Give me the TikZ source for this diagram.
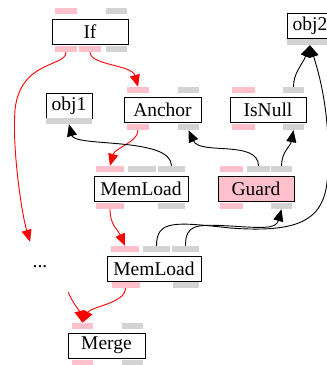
\documentclass[tikz,border=0pt]{standalone}
\usepackage{fontspec}
\setmainfont{Liberation Serif}
\newfontfamily\opfont{Liberation Serif}
\usetikzlibrary{arrows.meta}
\definecolor{portpink}{RGB}{255,192,203}
\definecolor{portgray}{RGB}{211,211,211}

\begin{document}
\begin{tikzpicture}[x=1pt,y=1pt,
  op/.style={draw,line width=0.9pt,minimum height=25pt,inner sep=0pt,font=\opfont\fontsize{19.5}{21}\selectfont},
  cp/.style={fill=portpink,minimum height=6pt,inner sep=0pt},
  vp/.style={fill=portgray,minimum height=6pt,inner sep=0pt},
  cf/.style={red,line width=0.9pt,-{Triangle[length=12pt,width=10pt]}},
  df/.style={black,line width=0.9pt,-{Triangle[length=12pt,width=10pt]}}]
\useasboundingbox (0,0) rectangle (327,365);
% operations
\node[op,minimum width=76pt] (if) at (90,333.5) {If};
\node[op,minimum width=46pt] (obj1) at (69,259.5) {obj1};
\node[op,minimum width=46pt] (obj2) at (310,339.5) {obj2};
\node[op,minimum width=77pt] (anc) at (162.5,255.5) {Anchor};
\node[op,minimum width=76pt] (isn) at (268,255.5) {IsNull};
\node[op,minimum width=94pt] (ml1) at (141,176.5) {MemLoad};
\node[op,minimum width=76pt,fill=portpink] (gd) at (256,176.5) {Guard};
\node[op,minimum width=94pt] (ml2) at (154,96.5) {MemLoad};
\node[op,minimum width=77pt] (mg) at (106.5,19.5) {Merge};
\node[font=\opfont\fontsize{19.5}{21}\selectfont,minimum width=56pt,minimum height=50pt] (dots) at (40,98) {...};
% ports
\node[cp,minimum width=22pt] (if-ci) at (66,354) {};
\node[vp,minimum width=21pt] (if-vi) at (116.5,354) {};
\node[cp,minimum width=22pt] (if-co1) at (66,316) {};
\node[cp,minimum width=22pt] (if-co2) at (90,316) {};
\node[vp,minimum width=21pt] (if-vo) at (116.5,316) {};
\node[vp,minimum width=46pt] (obj1-vo) at (69,244) {};
\node[vp,minimum width=46pt] (obj2-vo) at (310,323) {};
\node[cp,minimum width=22pt] (anc-ci) at (138,275) {};
\node[vp,minimum width=21pt] (anc-vi) at (188.5,275) {};
\node[cp,minimum width=22pt] (anc-co) at (138,238) {};
\node[vp,minimum width=21pt] (anc-vo) at (188.5,238) {};
\node[cp,minimum width=23pt] (isn-ci) at (243.5,275) {};
\node[vp,minimum width=21pt] (isn-vi) at (293.5,275) {};
\node[cp,minimum width=23pt] (isn-co) at (243.5,238) {};
\node[vp,minimum width=21pt] (isn-vo) at (293.5,238) {};
\node[cp,minimum width=28pt] (ml1-ci) at (110,196) {};
\node[vp,minimum width=28pt] (ml1-vi1) at (142,196) {};
\node[vp,minimum width=27pt] (ml1-vi2) at (171.5,196) {};
\node[cp,minimum width=28pt] (ml1-co) at (110,159) {};
\node[vp,minimum width=27pt] (ml1-vo) at (171.5,159) {};
\node[cp,minimum width=23pt] (gd-ci) at (231.5,196) {};
\node[vp,minimum width=23pt] (gd-vi1) at (258.5,196) {};
\node[vp,minimum width=21pt] (gd-vi2) at (281.5,196) {};
\node[cp,minimum width=23pt] (gd-co) at (231.5,159) {};
\node[vp,minimum width=21pt] (gd-vo) at (281.5,159) {};
\node[cp,minimum width=28pt] (ml2-ci) at (125,116) {};
\node[vp,minimum width=27pt] (ml2-vi1) at (156.5,116) {};
\node[vp,minimum width=27pt] (ml2-vi2) at (185.5,116) {};
\node[cp,minimum width=28pt] (ml2-co) at (125.5,80) {};
\node[vp,minimum width=26pt] (ml2-vo) at (186,80) {};
\node[cp,minimum width=21pt] (mg-ci) at (82.5,39) {};
\node[vp,minimum width=21pt] (mg-vi) at (132.5,39) {};
\node[cp,minimum width=21pt] (mg-co) at (82.5,2) {};
\node[vp,minimum width=21pt] (mg-vo) at (132.5,2) {};
% control flow
\draw[cf] (if-co1.south) .. controls +(0,-15) and +(5,50) .. (15,255)
  .. controls +(-3,-40) and +(-8,27) .. ([xshift=-10pt]dots.north);
\draw[cf] (if-co2.south) .. controls +(0,-13) and +(-6,22) .. (anc-ci.north);
\draw[cf] (anc-co.south) .. controls +(0,-12) and +(5,18) .. (ml1-ci.north);
\draw[cf] (ml1-co.south) .. controls +(0,-16) and +(-7,16) .. (ml2-ci.north);
\draw[cf] (ml2-co.south) .. controls +(0,-15) and +(8,16) .. (mg-ci.north);
\draw[cf] (dots.south east) .. controls +(4,-10) and +(-3,12) .. (mg-ci.north);
% data flow
\draw[df] (ml1-vi2.north) .. controls +(0,29) and +(6,-23) .. (obj1-vo.south);
\draw[df] (gd-vi1.north) .. controls +(0,26) and +(11.5,-25) .. (anc-vo.south);
\draw[df] (gd-vi2.north) .. controls +(0,14) and +(-3,-16) .. (isn-vo.south);
\draw[df] (isn-vi.north) .. controls +(0,14) and +(-8,-20) .. (obj2-vo.south);
\draw[df] (ml2-vi1.north) .. controls +(0,26) and +(-55,6) .. (230,137)
  .. controls +(80,-6) and +(0,-50) .. (328,200)
  .. controls +(2,55) and +(8,-25) .. (obj2-vo.south);
\draw[df] (ml2-vi2.north) .. controls +(0,21) and +(-35,2) .. (230,139)
  .. controls +(32,-2) and +(-5.5,-20) .. (gd-vo.south);
\end{tikzpicture}
\end{document}
